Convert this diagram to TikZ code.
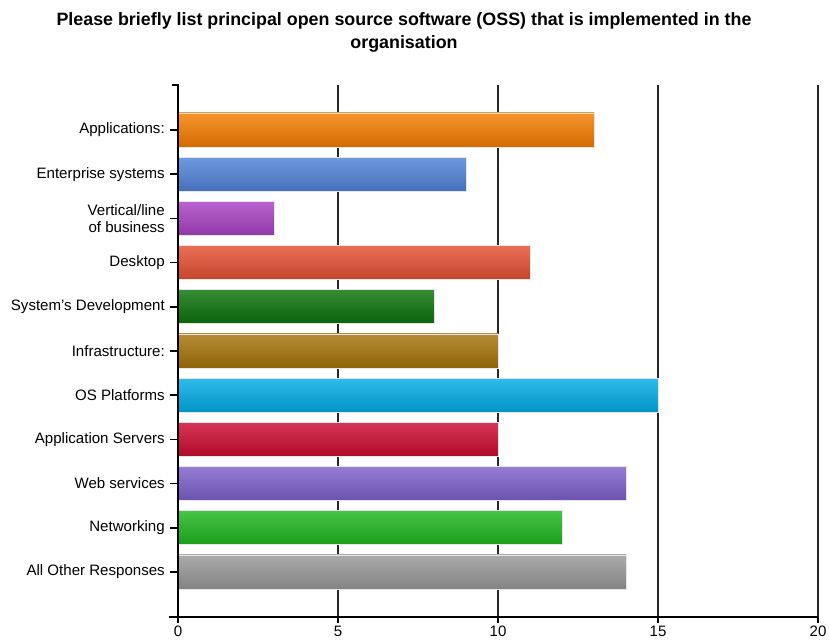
\documentclass[tikz,border=0pt]{standalone}
\usepackage{fontspec}
\setmainfont{Liberation Sans}
\usepackage{xcolor}
\usetikzlibrary{positioning}
\definecolor{apporange}{RGB}{245,125,0}
\definecolor{entblue}{RGB}{80,130,215}
\definecolor{vertpurple}{RGB}{168,65,195}
\definecolor{deskred}{RGB}{228,80,50}
\definecolor{sysgreen}{RGB}{10,115,10}
\definecolor{infrabrown}{RGB}{165,115,10}
\definecolor{osblue}{RGB}{0,172,230}
\definecolor{srvcrimson}{RGB}{205,10,48}
\definecolor{webpurple}{RGB}{125,95,203}
\definecolor{netgreen}{RGB}{30,183,30}
\definecolor{othergray}{RGB}{152,152,152}

\begin{document}
\begin{tikzpicture}[
    x=0.75pt, y=-0.75pt,
    bar/.style={rectangle, anchor=west, inner sep=0pt, minimum height=34*0.75pt, draw=black!10, line width=0.6pt},
    catlabel/.style={anchor=east, align=right, font=\fontsize{11.3}{12.8}\selectfont, inner sep=0pt},
    numlabel/.style={anchor=north, font=\fontsize{11.3}{12.8}\selectfont, inner sep=0pt},
    grid/.style={line width=1.1pt, black!85},
    axis/.style={line width=1.1pt, black}
]
\useasboundingbox (0,0) rectangle (829,641);

% Title
\node[font=\bfseries\fontsize{13.4}{17.2}\selectfont, align=center] (title) at (404,32)
    {Please briefly list principal open source software (OSS) that is implemented in the\\organisation};

% Grid lines and x axis
\coordinate (origin) at (178,617);
\coordinate (top) at (178,85);
\foreach \v in {5,10,15,20} {
    \coordinate (g\v) at ({178+32*\v},85);
    \coordinate (t\v) at ({178+32*\v},617);
    \draw[grid] (g\v) -- (t\v);
}
\foreach \v in {0,5,10,15,20} {
    \coordinate (tick\v) at ({178+32*\v},617);
    \draw[axis] (tick\v) -- ++(0,6);
    \node[numlabel] (num\v) at ({178+32*\v},626) {\v};
}

% Bars
\foreach \lab/\val/\col [count=\i from 0] in {
    Applications:/13/apporange,
    Enterprise systems/9/entblue,
    {Vertical/line\\of business}/3/vertpurple,
    Desktop/11/deskred,
    System’s Development/8/sysgreen,
    Infrastructure:/10/infrabrown,
    OS Platforms/15/osblue,
    Application Servers/10/srvcrimson,
    Web services/14/webpurple,
    Networking/12/netgreen,
    All Other Responses/14/othergray} {
    \pgfmathsetmacro{\yc}{130+44.2*\i}
    \node[bar, minimum width=\val*32*0.75pt, top color=\col!82!white, bottom color=\col!86!black] (bar\i) at (178,\yc) {};
    \coordinate (ytick\i) at (170,\yc);
    \draw[axis] (ytick\i) -- (bar\i.west);
    \node[catlabel] (cat\i) at (165,\yc) {\lab};
}

% Axes
\draw[axis] (172,85) -- (top) -- (origin);
\draw[axis] (169,617) -- (origin) -- (t20);

\end{tikzpicture}
\end{document}
